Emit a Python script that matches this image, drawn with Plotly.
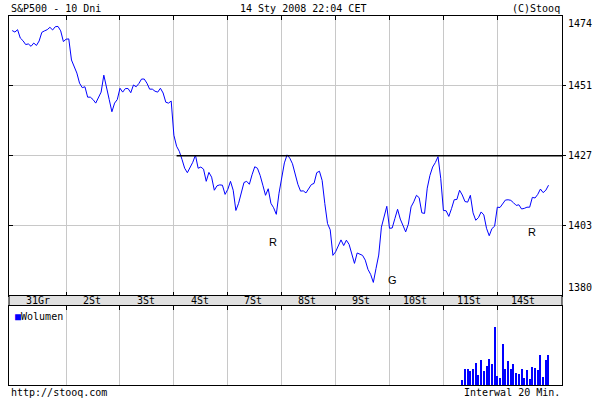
import plotly.graph_objects as go

# ---------------- data ----------------
days = ["31Gr", "2St", "3St", "4St", "7St", "8St", "9St", "10St", "11St", "14St"]
SLOTS_PER_DAY = 20  # 20-minute intervals per session

d_31gr = [1469.1, 1468.6, 1469.4, 1466.6, 1465.7, 1464.4, 1464.6, 1463.8, 1464.9, 1464.1,
          1465.6, 1468.5, 1469.0, 1469.4, 1470.2, 1469.3, 1470.4, 1470.5, 1469.0, 1465.4]
d_2st = [1466.2, 1466.3, 1459.2, 1457.2, 1454.8, 1451.4, 1449.9, 1450.2, 1446.7, 1446.7,
         1445.9, 1444.7, 1446.4, 1448.4, 1454.1, 1449.4, 1445.9, 1441.8, 1444.7, 1445.9]
d_3st = [1449.7, 1448.4, 1449.6, 1449.6, 1448.2, 1450.8, 1450.2, 1451.3, 1452.8, 1452.8,
         1451.4, 1449.4, 1449.4, 1448.7, 1448.4, 1449.7, 1448.1, 1445.0, 1444.7, 1445.4]
d_4st = [1433.9, 1430.2, 1428.5, 1425.8, 1422.8, 1421.3, 1423.1, 1424.8, 1427.2, 1422.8,
         1423.2, 1422.5, 1418.4, 1421.4, 1419.8, 1415.4, 1416.9, 1417.2, 1417.1, 1414.0]
d_7st = [1415.7, 1418.4, 1415.4, 1408.6, 1411.0, 1414.7, 1418.0, 1418.4, 1417.4, 1420.6,
         1423.3, 1422.8, 1420.4, 1417.1, 1413.7, 1415.9, 1411.0, 1409.5, 1407.3, 1414.4]
d_8st = [1419.9, 1424.6, 1427.3, 1426.2, 1424.3, 1420.4, 1417.4, 1415.1, 1415.2, 1414.5,
         1416.1, 1417.3, 1417.7, 1421.3, 1421.8, 1418.7, 1410.9, 1404.2, 1402.1, 1393.5]
d_9st = [1394.7, 1396.9, 1398.7, 1396.8, 1398.6, 1397.2, 1393.8, 1390.8, 1394.3, 1394.0,
         1393.5, 1391.9, 1388.8, 1387.1, 1384.4, 1389.1, 1393.6, 1403.0, 1406.1, 1410.0]
d_10st = [1402.6, 1402.7, 1405.9, 1409.0, 1405.7, 1403.4, 1401.4, 1404.0, 1409.8, 1411.5,
          1413.7, 1412.9, 1407.8, 1407.6, 1416.1, 1420.4, 1423.2, 1424.7, 1426.7, 1419.4]
d_11st = [1408.6, 1408.5, 1406.6, 1409.2, 1412.2, 1412.3, 1415.4, 1413.8, 1411.6, 1411.4,
          1413.7, 1407.8, 1405.3, 1406.2, 1408.1, 1407.1, 1402.6, 1400.1, 1402.5, 1403.3]
d_14st = [1409.7, 1409.6, 1411.0, 1412.1, 1412.2, 1412.0, 1411.2, 1410.3, 1410.5, 1409.1,
          1409.3, 1409.7, 1409.7, 1413.0, 1412.8, 1414.0, 1415.8, 1414.6, 1415.4, 1417.1]
price_by_day = [d_31gr, d_2st, d_3st, d_4st, d_7st, d_8st, d_9st, d_10st, d_11st, d_14st]

# volume (relative units) only available for the last 33 intervals
volume_first_slot = 167
volumes = [6, 17, 17, 15, 17, 23, 11, 26, 15, 20, 27, 22, 59, 10, 8, 42, 17,
           25, 17, 22, 13, 12, 17, 8, 16, 7, 19, 18, 16, 31, 9, 26, 31]

resistance_level = 1427
resistance_start_slot = 61

y_tick_vals = [1380, 1403.5, 1427, 1450.5, 1474]
y_tick_text = ["1380", "1403", "1427", "1451", "1474"]

signals = [("R", 96.8, 1397.9), ("G", 141.1, 1385.1), ("R", 192.9, 1401.2)]

# ---------------- build ----------------
prices = [p for day in price_by_day for p in day]
slots = [d * SLOTS_PER_DAY + k for d in range(len(days)) for k in range(SLOTS_PER_DAY)]
vol_x = slots[volume_first_slot:volume_first_slot + len(volumes)]
boundaries = [d * SLOTS_PER_DAY for d in range(1, len(days))]
day_centers = [d * SLOTS_PER_DAY + 9.5 for d in range(len(days))]

W, H = 600, 400
L, R, T, B = 8, 563, 16, 385
PW, PH = R - L, B - T


def fx(px):
    return (px - L) / PW


def fy(py):
    return (B - py) / PH


X_RANGE = [-1.18, 204.0]
Y_RANGE = [1380, 1474]
MAIN_BOTTOM = 295.5
VOL_TOP = 305.5

FONT = "DejaVu Sans Mono"
GRID = "#c8c8c8"
BLUE = "#0000ff"

fig = go.Figure()
fig.add_trace(go.Scatter(x=slots, y=prices, mode="lines",
                         line=dict(color=BLUE, width=1), xaxis="x", yaxis="y",
                         showlegend=False, hoverinfo="skip"))
fig.add_trace(go.Scatter(x=[resistance_start_slot, X_RANGE[1]],
                         y=[resistance_level, resistance_level], mode="lines",
                         line=dict(color="black", width=1.5), xaxis="x", yaxis="y3",
                         showlegend=False, hoverinfo="skip", cliponaxis=False))
fig.add_trace(go.Bar(x=vol_x, y=volumes, width=0.4, marker=dict(color=BLUE, line=dict(width=0)),
                     xaxis="x2", yaxis="y2", showlegend=False, hoverinfo="skip"))

axis_common = dict(showline=True, linecolor="black", linewidth=1, zeroline=False)

fig.update_layout(
    width=W, height=H, autosize=False,
    margin=dict(l=L, r=W - R, t=T, b=H - B, pad=0),
    paper_bgcolor="white", plot_bgcolor="white",
    font=dict(family=FONT, size=10, color="black"),
    xaxis=dict(domain=[0, 1], anchor="y", range=X_RANGE, tickmode="array",
               tickvals=boundaries, showticklabels=False, showgrid=True,
               gridcolor=GRID, gridwidth=1, ticks="inside", ticklen=4,
               tickcolor="black", mirror="ticks", **axis_common),
    yaxis=dict(domain=[fy(MAIN_BOTTOM), 1], anchor="x", side="right", range=Y_RANGE,
               tickmode="array", tickvals=y_tick_vals[1:4], ticktext=y_tick_text[1:4],
               ticks="outside", ticklen=3, tickcolor="black", showgrid=True,
               gridcolor=GRID, gridwidth=1, mirror=True,
               tickfont=dict(family=FONT, size=10, color="black"), **axis_common),
    yaxis3=dict(overlaying="y", anchor="x", side="left", range=Y_RANGE,
                tickmode="array", tickvals=y_tick_vals[1:4], showticklabels=False,
                ticks="inside", ticklen=4, tickcolor="black", showgrid=False,
                showline=False, zeroline=False),
    xaxis2=dict(domain=[0, 1], anchor="y2", side="top", range=X_RANGE, tickmode="array",
                tickvals=boundaries, showticklabels=False, showgrid=True,
                gridcolor=GRID, gridwidth=1, ticks="inside", ticklen=4,
                tickcolor="black", mirror=True, **axis_common),
    yaxis2=dict(domain=[0, fy(VOL_TOP)], anchor="x2", range=[0, 80],
                showticklabels=False, showgrid=False, ticks="", mirror=True,
                **axis_common),
    bargap=0,
)

# date strip
fig.add_shape(type="rect", xref="paper", yref="paper", x0=0, x1=1,
              y0=fy(VOL_TOP), y1=fy(MAIN_BOTTOM), fillcolor="#e0e0e0",
              line=dict(color="black", width=1), layer="above")

ann = []
for c, lab in zip(day_centers, days):
    ann.append(dict(x=c, xref="x", y=fy((MAIN_BOTTOM + VOL_TOP) / 2), yref="paper",
                    text=lab, showarrow=False, xanchor="center", yanchor="middle",
                    font=dict(family=FONT, size=10, color="black")))

# edge price labels
ann.append(dict(x=fx(567), xref="paper", y=fy(23.5), yref="paper", text=y_tick_text[4],
                showarrow=False, xanchor="left", yanchor="middle"))
ann.append(dict(x=fx(567), xref="paper", y=fy(287.5), yref="paper", text=y_tick_text[0],
                showarrow=False, xanchor="left", yanchor="middle"))

# header / footer
ann.append(dict(x=fx(8), xref="paper", y=fy(8), yref="paper", text="S&P500 - 10 Dni",
                showarrow=False, xanchor="left", yanchor="middle"))
ann.append(dict(x=fx(303.5), xref="paper", y=fy(8), yref="paper",
                text="14 Sty 2008 22:04 CET", showarrow=False, xanchor="center",
                yanchor="middle"))
ann.append(dict(x=fx(563), xref="paper", y=fy(8), yref="paper", text="(C)Stooq",
                showarrow=False, xanchor="right", yanchor="middle"))
ann.append(dict(x=fx(8), xref="paper", y=fy(393), yref="paper", text="http://stooq.com",
                showarrow=False, xanchor="left", yanchor="middle"))
ann.append(dict(x=fx(563), xref="paper", y=fy(393), yref="paper", text="Interwal 20 Min.",
                showarrow=False, xanchor="right", yanchor="middle"))

# volume legend
ann.append(dict(x=fx(12), xref="paper", y=fy(316), yref="paper",
                text='<span style="color:#0000ff">■</span>Wolumen',
                showarrow=False, xanchor="left", yanchor="middle"))

# signal markers
for t, sx, sy in signals:
    ann.append(dict(x=sx, xref="x", y=sy, yref="y", text=t, showarrow=False,
                    xanchor="center", yanchor="middle",
                    font=dict(family="Liberation Sans", size=11, color="black")))

for a in ann:
    a.setdefault("font", dict(family=FONT, size=10, color="black"))
fig.update_layout(annotations=ann)

fig.write_html("out.html", config={"displayModeBar": False},
               post_script="document.body.style.margin='0px';document.body.style.padding='0px';")
